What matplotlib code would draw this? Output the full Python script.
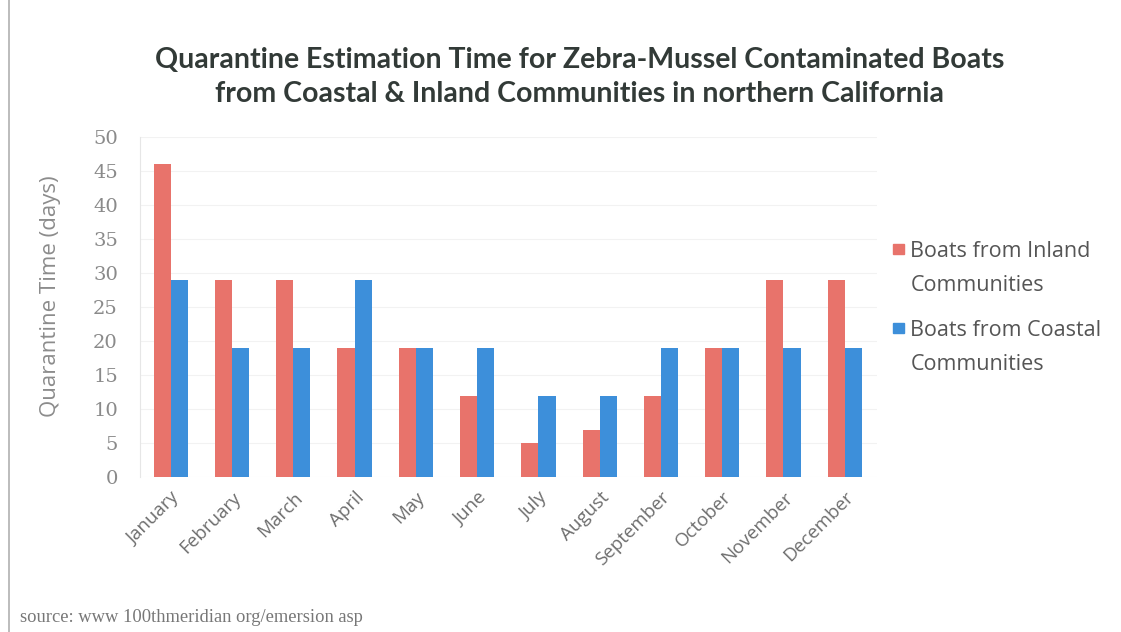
import numpy as np
import matplotlib.pyplot as plt
from matplotlib.patches import Rectangle

months = ['January', 'February', 'March', 'April', 'May', 'June', 'July',
          'August', 'September', 'October', 'November', 'December']
inland = [46, 29, 29, 19, 19, 12, 5, 7, 12, 19, 29, 29]
coastal = [29, 19, 19, 29, 19, 19, 12, 12, 19, 19, 19, 19]
yticks = [0, 5, 10, 15, 20, 25, 30, 35, 40, 45, 50]
series_names = ['Boats from Inland\nCommunities', 'Boats from Coastal\nCommunities']

red = '#E8736B'
blue = '#3D8FDA'
gray = '#6E6E6E'

fig = plt.figure(figsize=(11.21, 6.32), dpi=100)
ax = fig.add_axes([0.125, 0.245, 0.657, 0.538])

x = np.arange(len(months))
w = 0.28
ax.bar(x - w / 2, inland, w, color=red)
ax.bar(x + w / 2, coastal, w, color=blue)

ax.set_xlim(-0.5, len(months) - 0.48)
ax.set_ylim(0, 50)
ax.set_yticks(yticks)
ax.set_yticklabels([str(t) for t in yticks], fontsize=14, color='#8a8a8a',
                   family='DejaVu Serif')
ax.set_xticks(x)
ax.set_xticklabels(months, rotation=45, ha='right', rotation_mode='anchor',
                   fontsize=13.5, color=gray, family='Open Sans')
ax.tick_params(axis='y', length=0, pad=16)
ax.tick_params(axis='x', length=0, pad=8)
ax.yaxis.grid(True, color='#f2f2f2', lw=0.8)
ax.set_axisbelow(True)
for s in ['top', 'right', 'bottom']:
    ax.spines[s].set_visible(False)
ax.spines['left'].set_color('#e6e6e6')

ax.set_ylabel('Quarantine Time (days)', fontsize=16, color='#8c8c8c',
              family='Open Sans')
ax.yaxis.set_label_coords(-0.108, 0.532)

fig.text(0.517, 0.878, 'Quarantine Estimation Time for Zebra-Mussel Contaminated Boats\n'
         'from Coastal & Inland Communities in northern California',
         ha='center', va='center', fontsize=20.5, fontweight='bold',
         color='#323a37', family='Lato', linespacing=1.4)

# legend: square marker next to the first line of each two-line label
for name, col, ymid in zip(series_names, [red, blue], [0.606, 0.481]):
    fig.patches.append(Rectangle((0.797, ymid - 0.0085), 0.009, 0.016,
                                 transform=fig.transFigure, color=col))
    fig.text(0.812, ymid + 0.013, name, ha='left', va='top', fontsize=15.5,
             color='#555555', family='Open Sans', linespacing=1.85)

fig.text(0.018, 0.023, 'source: www 100thmeridian org/emersion asp',
         fontsize=13.3, color='#777777', family='Liberation Serif', va='center')

# thin frame line on the left edge
fig.add_artist(plt.Line2D([0.008, 0.008], [0.0, 1.0], color='#b0b0b0', lw=1.2))

fig.savefig('out.png', dpi=100)
